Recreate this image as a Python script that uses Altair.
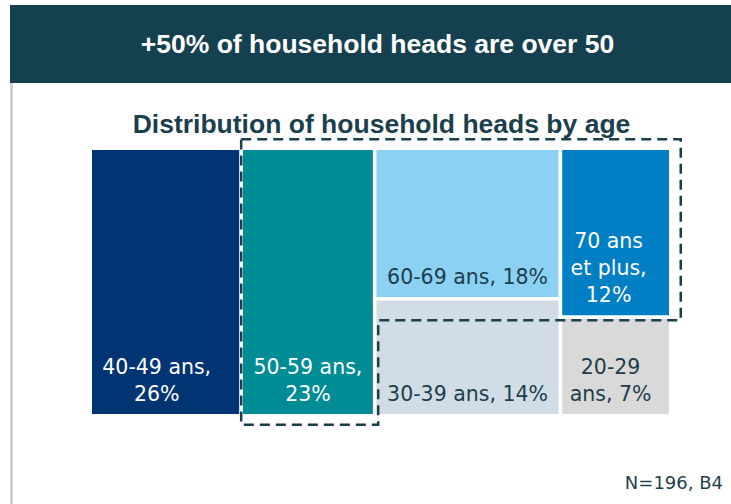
import altair as alt
import pandas as pd

# ---------------- data ----------------
groups = ["40-49 ans", "50-59 ans", "60-69 ans", "70 ans et plus", "30-39 ans", "20-29 ans"]
shares = [26, 23, 18, 12, 14, 7]
label_templates = ["40-49 ans,\n{p}%", "50-59 ans,\n{p}%", "60-69 ans, {p}%",
                   "70 ans\net plus,\n{p}%", "30-39 ans, {p}%", "20-29\nans, {p}%"]
# treemap columns (left to right), each listing its cells top to bottom
columns = [[0], [1], [2, 4], [3, 5]]
outlined = [1, 2, 3]  # the 50+ groups

title_text = "+50% of household heads are over 50"
subtitle_text = "Distribution of household heads by age"
note_text = "N=196, B4"

# ---------------- style ----------------
fills = ["#003473", "#008c95", "#8bd1f3", "#007fc4", "#d0dde6", "#d9d9d9"]
text_colors = ["#ffffff", "#ffffff", "#1e3d4b", "#ffffff", "#1e3d4b", "#1e3d4b"]
label_shift_px = [-9, 0, 0, -7, 0, -5]
DARK = "#15404f"
X0, X1 = 90.25, 670.75     # pixel range of the treemap
Y0, Y1 = 148.25, 415.75
LINE_H = 27
px = 100.0 / (X1 - X0)
py = 1.0 / (Y1 - Y0)

# ---------------- layout (slice & dice from shares) ----------------
total = float(sum(shares))
rects = []
xc = 0.0
for col in columns:
    cs = float(sum(shares[i] for i in col))
    yc = 0.0
    for i in col:
        h = shares[i] / cs
        rects.append(dict(idx=i, group=groups[i], share=shares[i],
                          x0=xc / total * 100, x1=(xc + cs) / total * 100,
                          y0=yc, y1=yc + h, fill=fills[i]))
        yc += h
    xc += cs
rect_df = pd.DataFrame(rects)

rows = []
for r in rects:
    lines = label_templates[r["idx"]].format(p=r["share"]).split("\n")
    n = len(lines)
    for j, line in enumerate(lines):
        rows.append(dict(txt=line,
                         x=(r["x0"] + r["x1"]) / 2 + label_shift_px[r["idx"]] * px,
                         y=r["y1"] - (n - 1 - j) * LINE_H * py,
                         tcolor=text_colors[r["idx"]]))
text_df = pd.DataFrame(rows)

rd = {r["idx"]: r for r in rects}
left = rd[outlined[0]]["x0"]
right = rd[outlined[2]]["x1"] + 10 * px
notch_x = rd[outlined[1]]["x0"] + 3.5 * px
notch_y = rd[outlined[2]]["y1"] + 3 * py
top = 0 - 9 * py
bottom = 1 + 9 * py
pts = [(left, top), (right, top), (right, notch_y), (notch_x, notch_y),
       (notch_x, bottom), (left, bottom), (left, top)]
outline_df = pd.DataFrame([dict(k=k, x=p[0], y=p[1]) for k, p in enumerate(pts)])

xs = alt.Scale(domain=[0, 100], range=[X0, X1], zero=False, nice=False)
ys = alt.Scale(domain=[0, 1], range=[Y0, Y1], zero=False, nice=False)

dummy = pd.DataFrame({"a": [0]})

header = alt.Chart(dummy).mark_rect(color=DARK).encode(
    x=alt.value(10), x2=alt.value(731), y=alt.value(5), y2=alt.value(83))
side = alt.Chart(dummy).mark_rule(color="#c8c8c8", strokeWidth=2.5).encode(
    x=alt.value(11.5), y=alt.value(83), y2=alt.value(504))
title = alt.Chart(dummy).mark_text(
    text=title_text, font="Liberation Sans", fontWeight="bold", fontSize=26.5,
    color="white", align="center", baseline="alphabetic").encode(
    x=alt.value(377.5), y=alt.value(53))
subtitle = alt.Chart(dummy).mark_text(
    text=subtitle_text, font="Liberation Sans", fontWeight="bold", fontSize=26.5,
    color="#1b3f4d", align="center", baseline="alphabetic").encode(
    x=alt.value(381.5), y=alt.value(133))

cells = alt.Chart(rect_df).mark_rect(stroke="white", strokeWidth=3.5).encode(
    x=alt.X("x0:Q", scale=xs, axis=None), x2="x1:Q",
    y=alt.Y("y0:Q", scale=ys, axis=None), y2="y1:Q",
    fill=alt.Fill("fill:N", scale=None))

labels = alt.Chart(text_df).mark_text(
    font="DejaVu Sans", fontSize=20.5, align="center", baseline="alphabetic", dy=-15).encode(
    x=alt.X("x:Q", scale=xs, axis=None), y=alt.Y("y:Q", scale=ys, axis=None),
    text="txt:N", color=alt.Color("tcolor:N", scale=None))

outline = alt.Chart(outline_df).mark_line(
    color="#1b3f4c", strokeWidth=2.5, strokeDash=[10, 6]).encode(
    x=alt.X("x:Q", scale=xs, axis=None), y=alt.Y("y:Q", scale=ys, axis=None),
    order="k:Q")

note = alt.Chart(dummy).mark_text(
    text=note_text, font="DejaVu Sans", fontSize=18, color="#1f3f4c",
    align="right", baseline="alphabetic").encode(x=alt.value(723), y=alt.value(489))

chart = alt.layer(header, side, title, subtitle, cells, labels, outline, note).properties(
    width=731, height=504, padding=0, background="white",
    autosize=alt.AutoSizeParams(type="none")
).configure_view(stroke=None)

chart.save("out.html", embed_options={"renderer": "svg", "actions": False})
